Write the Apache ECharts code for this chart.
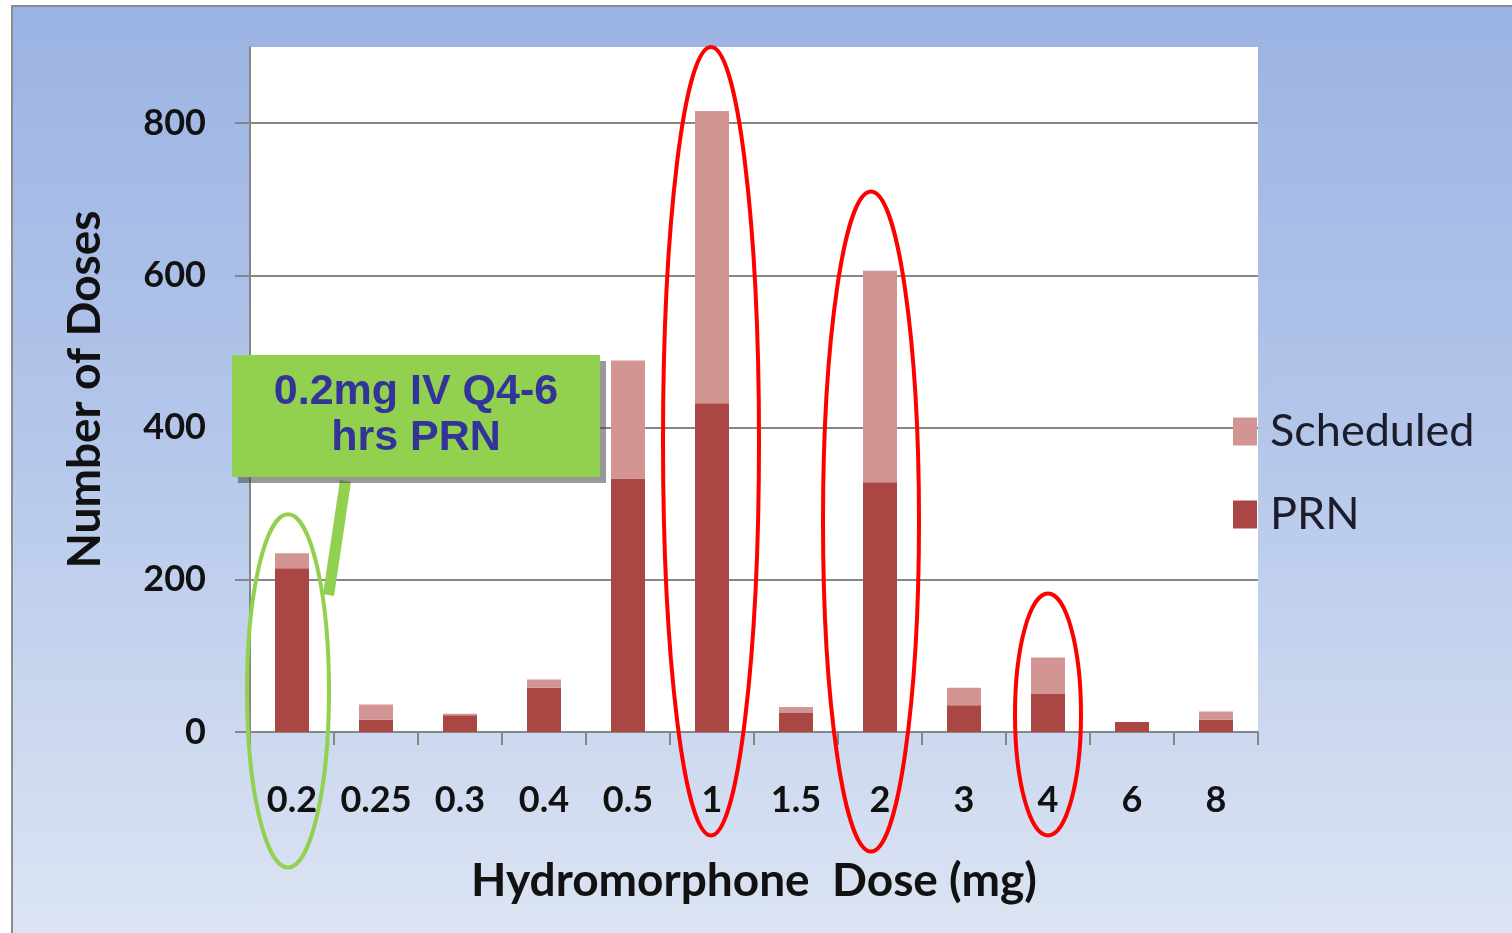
<!DOCTYPE html>
<html>
<head>
<meta charset="utf-8">
<title>Hydromorphone doses</title>
<script src="https://cdn.jsdelivr.net/npm/echarts@6/dist/echarts.min.js"></script>
<style>
  html, body { margin: 0; padding: 0; background: #fff; }
  #bg {
    position: absolute; left: 11px; top: 5px; width: 1510px; height: 935px;
    border-left: 2px solid #8c8c8c; border-top: 2px solid #8c8c8c;
    background: linear-gradient(to bottom, #9bb3e3 0%, #b3c6ea 45%, #dde5f3 100%);
  }
  #main { position: absolute; left: 0; top: 0; width: 1512px; height: 933px; }
</style>
</head>
<body>
<div id="bg"></div>
<div id="main"></div>
<script>
// dose categories (mg)
const doses = ['0.2', '0.25', '0.3', '0.4', '0.5', '1', '1.5', '2', '3', '4', '6', '8']
// PRN doses (bottom part of each bar)
const prnDoses = [215, 16, 22, 58, 333, 432, 25, 328, 35, 50, 13, 16]
// scheduled doses stacked on top
const scheduledDoses = [20, 20, 2, 11, 155, 384, 8, 278, 23, 48, 0, 11]
// y axis ticks
const yTicks = [0, 200, 400, 600, 800]

// highlighted doses: [category, top value, bottom value, half width, x shift, colour]
const highlights = [
    ['0.2', 286, -178, 41, -4, '#92d050'],
    ['1', 900, -136, 48, -1, '#ff0000'],
    ['2', 710, -157, 48, -9, '#ff0000'],
    ['4', 182, -136, 33, 0, '#ff0000']
]

const myChart = echarts.init(document.querySelector('#main'))

const option = {
    backgroundColor: 'transparent',
    animation: false,
    grid: {
        left: 250,
        right: 254,
        top: 47,
        bottom: 201,
        show: true,
        backgroundColor: '#fff',
        borderWidth: 0
    },
    legend: {
        data: ['Scheduled', 'PRN'],
        orient: 'vertical',
        left: 1228,
        top: 404,
        itemWidth: 24,
        itemHeight: 28,
        itemGap: 38,
        icon: 'rect',
        textStyle: {
            fontFamily: 'Lato',
            fontSize: 45,
            color: '#1c1c2a',
            padding: [0, 0, 0, 8]
        }
    },
    xAxis: {
        type: 'category',
        data: doses,
        name: 'Hydromorphone  Dose (mg)',
        nameLocation: 'middle',
        nameGap: 126,
        nameTextStyle: {
            fontFamily: 'Lato',
            fontWeight: 'bold',
            fontSize: 46,
            color: '#111'
        },
        axisLine: { lineStyle: { color: '#868686', width: 2 } },
        axisTick: { show: true, interval: 0, length: 13, lineStyle: { color: '#868686', width: 2 } },
        axisLabel: {
            interval: 0,
            margin: 50,
            fontFamily: 'Lato',
            fontWeight: 'bold',
            fontSize: 36,
            color: '#111'
        }
    },
    yAxis: {
        type: 'value',
        min: 0,
        max: 900,
        interval: 200,
        name: 'Number of Doses',
        nameLocation: 'middle',
        nameGap: 142,
        nameTextStyle: {
            fontFamily: 'Lato',
            fontWeight: 'bold',
            fontSize: 46,
            color: '#111'
        },
        axisLine: { show: true, lineStyle: { color: '#868686', width: 2 } },
        axisTick: { show: true, length: 15, customValues: yTicks, lineStyle: { color: '#868686', width: 2 } },
        axisLabel: {
            customValues: yTicks,
            margin: 44,
            fontFamily: 'Lato',
            fontWeight: 'bold',
            fontSize: 36,
            color: '#111'
        },
        splitLine: {
            lineStyle: {
                color: ['#868686', '#868686', '#868686', '#868686', '#868686', 'rgba(0,0,0,0)'],
                width: 2
            }
        }
    },
    series: [
        {
            name: 'PRN',
            type: 'bar',
            stack: 'doses',
            data: prnDoses,
            barWidth: 34,
            itemStyle: { color: '#aa4643' }
        },
        {
            name: 'Scheduled',
            type: 'bar',
            stack: 'doses',
            data: scheduledDoses,
            barWidth: 34,
            itemStyle: { color: '#d39594' }
        }
    ]
}

myChart.setOption(option)

// ellipses around the highlighted doses, placed through the axes
const marks = highlights.map(function (h) {
    const top = myChart.convertToPixel({ xAxisIndex: 0, yAxisIndex: 0 }, [h[0], h[1]])
    const bottom = myChart.convertToPixel({ xAxisIndex: 0, yAxisIndex: 0 }, [h[0], h[2]])
    return {
        type: 'ellipse',
        z: 100,
        shape: {
            cx: top[0] + h[4],
            cy: (top[1] + bottom[1]) / 2,
            rx: h[3],
            ry: (bottom[1] - top[1]) / 2
        },
        style: { fill: 'none', stroke: h[5], lineWidth: 4 }
    }
})

// callout box with its pointer
marks.push({
    type: 'polygon',
    z: 101,
    shape: { points: [[340, 480], [351, 482], [334, 596], [323, 594]] },
    style: { fill: '#92d050' }
})
marks.push({
    type: 'rect',
    z: 102,
    shape: { x: 232, y: 355, width: 368, height: 122 },
    style: {
        fill: '#92d050',
        shadowColor: 'rgba(70,70,70,0.55)',
        shadowOffsetX: 6,
        shadowOffsetY: 6,
        shadowBlur: 0
    }
})
marks.push({
    type: 'text',
    z: 103,
    x: 416,
    y: 415,
    style: {
        text: '0.2mg IV Q4-6\nhrs PRN',
        fill: '#333399',
        font: 'bold 43px "Liberation Sans", Arial, sans-serif',
        lineHeight: 46,
        align: 'center',
        verticalAlign: 'middle'
    }
})

myChart.setOption({ graphic: { elements: marks } })
</script>
</body>
</html>
